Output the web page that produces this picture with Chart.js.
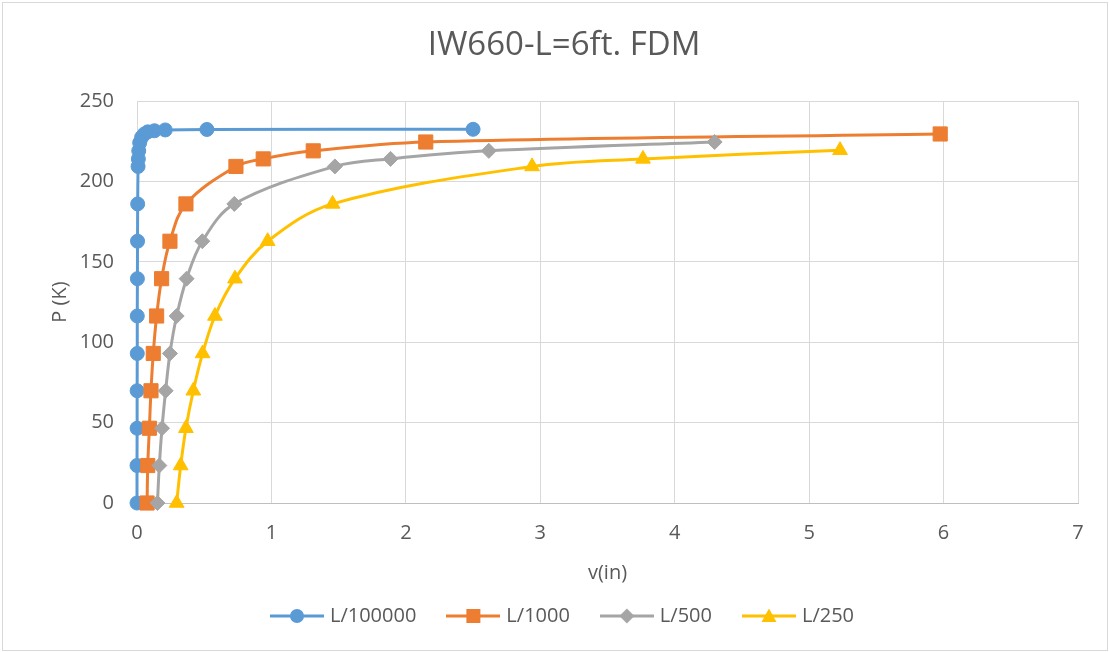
<!DOCTYPE html>
<html>
<head>
<meta charset="utf-8">
<title>IW660-L=6ft. FDM</title>
<script src="https://cdn.jsdelivr.net/npm/chart.js@4.4.1/dist/chart.umd.min.js"></script>
<style>
  html, body { margin: 0; padding: 0; background: #fff; }
</style>
</head>
<body>
<canvas id="fdmChart" width="1109" height="652"></canvas>
<script>
// load P (K) against mid-span deflection v (in), one pair of arrays per imperfection
const pL100000 = [0, 23.3, 46.5, 69.8, 93, 116.3, 139.5, 162.8, 186, 209.3, 214, 219, 224, 227.5, 229.5, 230.8, 231.5, 232, 232.3, 232.4];
const vL100000 = [0, 0, 0.001, 0.001, 0.002, 0.002, 0.003, 0.004, 0.005, 0.008, 0.01, 0.013, 0.02, 0.035, 0.055, 0.08, 0.13, 0.21, 0.52, 2.5];

const pL1000 = [0, 23.3, 46.5, 69.8, 93, 116.3, 139.5, 162.8, 186, 209.3, 214, 219, 224.5, 229.5];
const vL1000 = [0.075, 0.08, 0.092, 0.104, 0.121, 0.146, 0.183, 0.245, 0.364, 0.736, 0.939, 1.311, 2.148, 5.975];

const pL500 = [0, 23.3, 46.5, 69.8, 93, 116.3, 139.5, 162.8, 186, 209.3, 214, 219, 224.5];
const vL500 = [0.152, 0.166, 0.186, 0.213, 0.245, 0.295, 0.369, 0.486, 0.724, 1.472, 1.886, 2.617, 4.297];

const pL250 = [0, 23.3, 46.5, 69.8, 93, 116.3, 139.5, 162.8, 186, 209.3, 214, 219.4];
const vL250 = [0.295, 0.325, 0.364, 0.419, 0.488, 0.58, 0.729, 0.972, 1.455, 2.939, 3.764, 5.23];

const seriesNames = ['L/100000', 'L/1000', 'L/500', 'L/250'];
const seriesColors = ['#5B9BD5', '#ED7D31', '#A5A5A5', '#FFC000'];
const seriesMarkers = ['circle', 'rect', 'rectRot', 'triangle'];
const markerSizes = [7, 10, 7.5, 8.5];

const xTicks = [0, 1, 2, 3, 4, 5, 6, 7];
const yTicks = [0, 50, 100, 150, 200, 250];

const textColor = '#595959';
const fontFamily = "'Open Sans', 'DejaVu Sans', sans-serif";

const toPoints = function(vs, ps) {
    return vs.map(function(v, i) { return {x: v, y: ps[i]}; });
};

const seriesData = [
    toPoints(vL100000, pL100000),
    toPoints(vL1000, pL1000),
    toPoints(vL500, pL500),
    toPoints(vL250, pL250)
];

// small line + marker swatch used as the legend point style
const makeLegendIcon = function(color, marker) {
    const c = document.createElement('canvas');
    c.width = 54;
    c.height = 20;
    const ctx = c.getContext('2d');
    ctx.strokeStyle = color;
    ctx.fillStyle = color;
    ctx.lineWidth = 3;
    ctx.beginPath();
    ctx.moveTo(0, 10);
    ctx.lineTo(54, 10);
    ctx.stroke();
    ctx.beginPath();
    if (marker === 'circle') {
        ctx.arc(27, 10, 7, 0, Math.PI * 2);
    } else if (marker === 'rect') {
        ctx.rect(20, 3, 14, 14);
    } else if (marker === 'rectRot') {
        ctx.moveTo(27, 2.5); ctx.lineTo(34.5, 10); ctx.lineTo(27, 17.5); ctx.lineTo(19.5, 10);
        ctx.closePath();
    } else {
        ctx.moveTo(27, 2.5); ctx.lineTo(34.5, 16); ctx.lineTo(19.5, 16);
        ctx.closePath();
    }
    ctx.fill();
    return c;
};

const legendIcons = seriesColors.map(function(col, i) { return makeLegendIcon(col, seriesMarkers[i]); });

const datasets = seriesNames.map(function(name, i) {
    return {
        label: name,
        data: seriesData[i],
        showLine: true,
        tension: 0.35,
        clip: false,
        borderColor: seriesColors[i],
        backgroundColor: seriesColors[i],
        borderWidth: 3,
        pointStyle: seriesMarkers[i],
        pointRadius: markerSizes[i],
        pointHoverRadius: markerSizes[i],
        pointBorderWidth: 1,
        pointBackgroundColor: seriesColors[i],
        pointBorderColor: seriesColors[i],
        order: seriesNames.length - i   // later series drawn on top
    };
});

// white background and thin frame around the whole chart
const chartFrame = {
    id: 'chartFrame',
    beforeDraw: function(chart) {
        const ctx = chart.ctx;
        ctx.save();
        ctx.fillStyle = '#ffffff';
        ctx.fillRect(0, 0, chart.width, chart.height);
        ctx.strokeStyle = '#d9d9d9';
        ctx.lineWidth = 1;
        ctx.strokeRect(2.5, 2.5, chart.width - 4, chart.height - 4);
        ctx.restore();
    }
};

new Chart(document.getElementById('fdmChart'), {
    type: 'scatter',
    data: { datasets: datasets },
    plugins: [chartFrame],
    options: {
        responsive: false,
        animation: false,
        layout: { padding: { left: 50, right: 31, top: 0, bottom: 16 } },
        plugins: {
            title: {
                display: true,
                text: 'IW660-L=6ft. FDM',
                color: textColor,
                font: { family: fontFamily, size: 33, weight: 'normal' },
                padding: { top: 26, bottom: 35.4 }
            },
            legend: {
                position: 'bottom',
                labels: {
                    usePointStyle: true,
                    pointStyleWidth: 46,
                    padding: 34,
                    color: textColor,
                    font: { family: fontFamily, size: 20 },
                    sort: function(a, b) { return a.datasetIndex - b.datasetIndex; },
                    generateLabels: function(chart) {
                        const items = Chart.defaults.plugins.legend.labels.generateLabels(chart);
                        items.forEach(function(item) {
                            item.pointStyle = legendIcons[item.datasetIndex];
                        });
                        return items;
                    }
                }
            },
            tooltip: { enabled: false }
        },
        scales: {
            x: {
                type: 'linear',
                min: xTicks[0],
                max: xTicks[xTicks.length - 1],
                afterBuildTicks: function(scale) {
                    scale.ticks = xTicks.map(function(v) { return {value: v}; });
                },
                afterFit: function(scale) { scale.height = 69; },
                ticks: {
                    color: textColor,
                    font: { family: fontFamily, size: 20 },
                    padding: 18
                },
                grid: { color: '#d9d9d9', lineWidth: 1, drawTicks: false },
                border: { color: '#bfbfbf', width: 1 },
                title: {
                    display: true,
                    text: 'v(in)',
                    color: textColor,
                    font: { family: fontFamily, size: 20 },
                    padding: { top: 0, bottom: -13 }
                }
            },
            y: {
                type: 'linear',
                min: yTicks[0],
                max: yTicks[yTicks.length - 1],
                afterBuildTicks: function(scale) {
                    scale.ticks = yTicks.map(function(v) { return {value: v}; });
                },
                afterFit: function(scale) { scale.width = 87; },
                ticks: {
                    color: textColor,
                    font: { family: fontFamily, size: 20 },
                    padding: 23
                },
                grid: { color: '#d9d9d9', lineWidth: 1, drawTicks: false },
                border: { color: '#d9d9d9', width: 1 },
                title: {
                    display: true,
                    text: 'P (K)',
                    color: textColor,
                    font: { family: fontFamily, size: 20 },
                    padding: { top: -2, bottom: 0 }
                }
            }
        }
    }
});
</script>
</body>
</html>
